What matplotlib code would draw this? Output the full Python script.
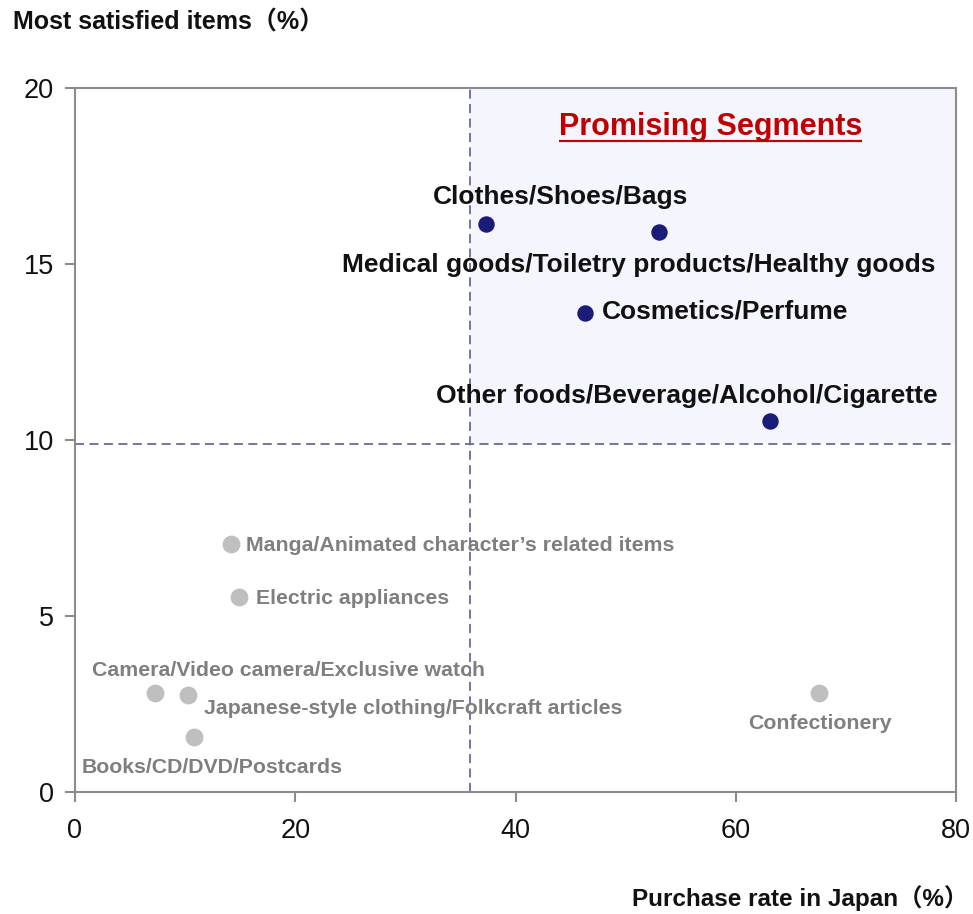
import matplotlib
matplotlib.use("Agg")
import matplotlib.pyplot as plt
from matplotlib.patches import Rectangle

plt.rcParams['font.family'] = ['Liberation Sans', 'Noto Sans CJK JP', 'DejaVu Sans']

# Purchase rate in Japan (%) vs. most satisfied items (%)
promising_items = ["Clothes/Shoes/Bags",
                   "Medical goods/Toiletry products/Healthy goods",
                   "Cosmetics/Perfume",
                   "Other foods/Beverage/Alcohol/Cigarette"]
promising_x = [37.3, 53.0, 46.3, 63.1]
promising_y = [16.15, 15.9, 13.6, 10.55]

other_items = ["Manga/Animated character’s related items",
               "Electric appliances",
               "Camera/Video camera/Exclusive watch",
               "Japanese-style clothing/Folkcraft articles",
               "Books/CD/DVD/Postcards",
               "Confectionery"]
other_x = [14.2, 14.9, 7.3, 10.3, 10.8, 67.6]
other_y = [7.05, 5.55, 2.8, 2.75, 1.55, 2.8]

x_threshold = 35.9
y_threshold = 9.9

x_ticks = [0, 20, 40, 60, 80]
y_ticks = [0, 5, 10, 15, 20]

W, H = 973, 914
fig = plt.figure(figsize=(W / 100, H / 100), dpi=100)
ax = fig.add_axes([75 / W, 1 - 792 / H, (956 - 75) / W, (792 - 88) / H])
ax.set_xlim(0, 80)
ax.set_ylim(0, 20)

# shaded upper-right quadrant
ax.add_patch(Rectangle((x_threshold, y_threshold), 80 - x_threshold, 20 - y_threshold,
                       facecolor="#f4f5fd", edgecolor="none", zorder=0))
dash_col = "#6a6a9a"
ax.axvline(x_threshold, color=dash_col, lw=1.3, ls=(0, (5, 3)), zorder=1)
ax.axhline(y_threshold, color=dash_col, lw=1.3, ls=(0, (5, 3)), zorder=1)

ax.scatter(promising_x, promising_y, s=140, color="#1b1b78", zorder=3, linewidths=0)
ax.scatter(other_x, other_y, s=165, color="#bfbfbf", zorder=3, linewidths=0)

dark = "#111111"
grey = "#7f7f7f"
fs_big = 19
fs_small = 15.3
# label placement for highlighted items: (x, y, ha)
promising_pos = [(44.1, 16.9, "center"), (51.2, 14.98, "center"),
                 (47.8, 13.66, "left"), (55.6, 11.25, "center")]
for name, (tx, ty, ha) in zip(promising_items, promising_pos):
    ax.text(tx, ty, name, ha=ha, va="center", fontsize=fs_big,
            fontweight="bold", color=dark, zorder=4)

other_pos = [(15.5, 6.99, "left"), (16.4, 5.51, "left"), (19.35, 3.44, "center"),
             (11.7, 2.36, "left"), (0.6, 0.71, "left"), (67.6, 1.96, "center")]
for name, (tx, ty, ha) in zip(other_items, other_pos):
    ax.text(tx, ty, name, ha=ha, va="center", fontsize=fs_small,
            fontweight="bold", color=grey, zorder=4)

heading = ax.text(57.7, 18.9, "Promising Segments", ha="center", va="center",
                  fontsize=22, fontweight="bold", color="#c00000", zorder=4)

spine_col = "#8c8c8c"
for s in ax.spines.values():
    s.set_color(spine_col)
    s.set_linewidth(1.5)
ax.set_xticks(x_ticks)
ax.set_yticks(y_ticks)
ax.tick_params(direction="out", length=7, width=1.5, color=spine_col,
               labelsize=19.5, labelcolor="#111111", pad=8)
ax.tick_params(axis="x", pad=12)

fig.text(13 / W, 1 - 23 / H, "Most satisfied items（%）", ha="left", va="center",
         fontsize=18, fontweight="bold", color="#111111")
fig.text(968 / W, 1 - 898 / H, "Purchase rate in Japan（%）", ha="right", va="center",
         fontsize=17.5, fontweight="bold", color="#111111")

# underline the heading, spanning its rendered width
fig.canvas.draw()
bb = heading.get_window_extent()
inv = ax.transData.inverted()
(x0, y0), (x1, _) = inv.transform([(bb.x0, bb.y0 + 1), (bb.x1, bb.y0)])
ax.plot([x0, x1], [y0, y0], color="#c00000", lw=1.6, zorder=4, solid_capstyle="butt")

fig.savefig("out.png", dpi=100, facecolor="white")
